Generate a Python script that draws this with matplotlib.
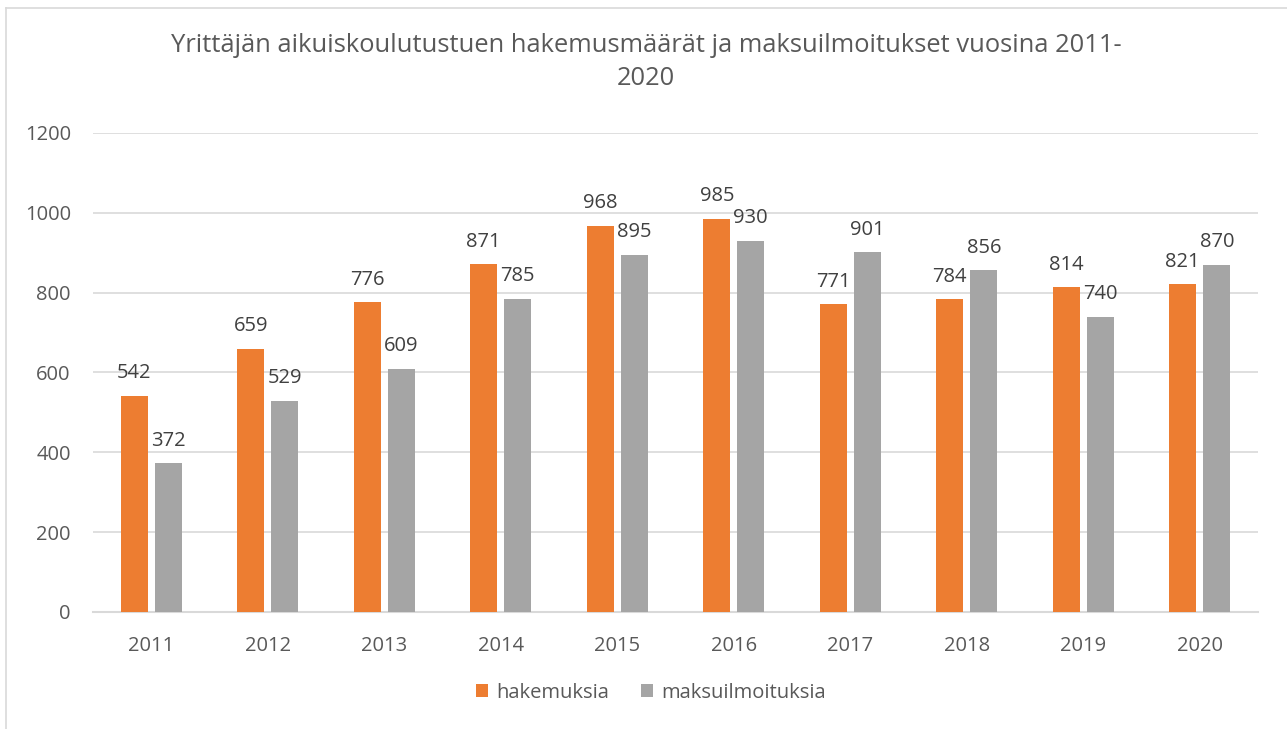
import matplotlib.pyplot as plt
import numpy as np

years = ['2011', '2012', '2013', '2014', '2015', '2016', '2017', '2018', '2019', '2020']
hakemuksia = [542, 659, 776, 871, 968, 985, 771, 784, 814, 821]
maksuilmoituksia = [372, 529, 609, 785, 895, 930, 901, 856, 740, 870]

plt.rcParams['font.family'] = ['Open Sans', 'DejaVu Sans']

orange = '#ED7D31'
gray = '#A5A5A5'
text_col = '#595959'

fig = plt.figure(figsize=(12.87, 7.29), dpi=100)
ax = fig.add_axes([0.0723, 0.1605, 0.9052, 0.6571])

x = np.arange(len(years))
width = 0.23
off = 0.146

b1 = ax.bar(x - off, hakemuksia, width, color=orange, label='hakemuksia', zorder=3)
b2 = ax.bar(x + off, maksuilmoituksia, width, color=gray, label='maksuilmoituksia', zorder=3)

# value labels above each bar
for bars in (b1, b2):
    for b in bars:
        ax.annotate(f'{int(b.get_height())}', (b.get_x() + b.get_width() / 2, b.get_height()),
                    xytext=(0, 9), textcoords='offset points', ha='center', va='bottom',
                    fontsize=14.5, color='#404040')

ax.set_xlim(-0.5, len(years) - 0.5)
ax.set_ylim(0, 1200)
ax.set_yticks(range(0, 1201, 200))
ax.set_xticks(x)
ax.set_xticklabels(years)
ax.tick_params(axis='both', length=0, labelsize=14.5, labelcolor=text_col)
ax.tick_params(axis='x', pad=17)
ax.tick_params(axis='y', pad=16)
ax.grid(axis='y', color='#D9D9D9', linewidth=1.2, zorder=0)
for s in ['top', 'right', 'left']:
    ax.spines[s].set_visible(False)
ax.spines['bottom'].set_color('#D9D9D9')
ax.spines['bottom'].set_linewidth(1.5)

fig.text(0.502, 0.955, 'Yrittäjän aikuiskoulutustuen hakemusmäärät ja maksuilmoitukset vuosina 2011-\n2020',
         ha='center', va='top', fontsize=18.4, color=text_col, linespacing=1.45)

ax.legend(loc='center', bbox_to_anchor=(0.479, -0.169), ncol=2, frameon=False, fontsize=14.5,
          labelcolor=text_col, handlelength=0.6, handleheight=0.6, handletextpad=0.4, columnspacing=1.6)

# light chart-area border on the left and top
fig.add_artist(plt.Line2D([0.0043, 0.0043], [0, 0.989], color='#D9D9D9', linewidth=1.2))
fig.add_artist(plt.Line2D([0.0043, 1.0], [0.989, 0.989], color='#D9D9D9', linewidth=1.2))

fig.savefig('out.png', dpi=100)
